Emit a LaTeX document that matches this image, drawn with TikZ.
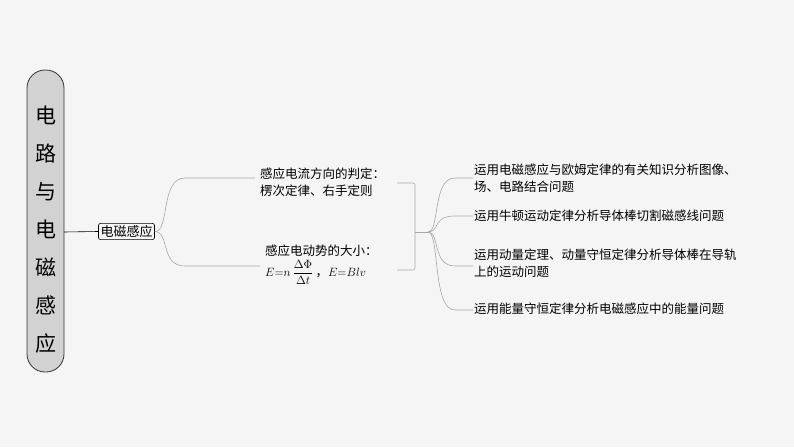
\documentclass[tikz,border=0pt]{standalone}
\usepackage{fontspec}
\newfontfamily\cjk{Noto Sans CJK SC}
\usetikzlibrary{positioning}
\tikzset{
	branch/.style = {draw=gray!70, line width=0.6pt},
	leaf/.style   = {anchor=west, align=left, font=\cjk\fontsize{12.5}{17}\selectfont, inner sep=1pt},
}
\begin{document}
\begin{tikzpicture}[x=1pt, y=-1pt]
	\fill[gray!8] (0,0) rectangle (794,447);
	\useasboundingbox (0,0) rectangle (794,447);

	% title column
	\draw[fill=gray!35, draw=black!80, line width=0.8pt, rounded corners=18pt] (27,70) rectangle (64,372);
	\node[font=\cjk\fontsize{21}{26}\selectfont, align=center, inner sep=0pt] (title) at (45.5,230)
		{电\\[12pt]路\\[12pt]与\\[12pt]电\\[12pt]磁\\[12pt]感\\[12pt]应};
	\coordinate (titleR) at (64,232);

	\node[draw=black, rounded corners=2pt, line width=0.6pt, font=\cjk\fontsize{13}{14}\selectfont, inner sep=2pt] (root) at (126.5,231.5) {电磁感应};
	\draw[black, line width=0.6pt] (titleR) -- (root.west);

	% middle branches
	\node[leaf] (dir) at (259,182) {感应电流方向的判定：\\楞次定律、右手定则};
	\node[leaf] (emf) at (264,265) {感应电动势的大小：\\[2pt]$E{=}n\,\displaystyle\frac{\Delta\Phi}{\Delta t}$\,，$E{=}Blv$};
	\draw[branch] (root.east) .. controls (170,232) and (160,178) .. (185,178) -- (255,178);
	\draw[branch] (root.east) .. controls (170,232) and (160,266) .. (185,266) -- (260,266);

	% collecting bracket
	\coordinate (brR) at (428,232);
	\draw[branch, rounded corners=2pt] (397,183) -- (415,183) -- (415,270) -- (397,270);
	\draw[branch] (415,232) -- (brR);

	% right leaves
	\node[leaf] (l1) at (473,178) {运用电磁感应与欧姆定律的有关知识分析图像、\\场、电路结合问题};
	\node[leaf] (l2) at (473,216) {运用牛顿运动定律分析导体棒切割磁感线问题};
	\node[leaf] (l3) at (473,263) {运用动量定理、动量守恒定律分析导体棒在导轨\\上的运动问题};
	\node[leaf] (l4) at (473,309) {运用能量守恒定律分析电磁感应中的能量问题};
	\foreach \y/\n in {178/l1, 216/l2, 266/l3, 310/l4}
		\draw[branch] (brR) .. controls (440,232) and (432,\y) .. (455,\y) -- (\n.west |- 0,\y);
\end{tikzpicture}
\end{document}
